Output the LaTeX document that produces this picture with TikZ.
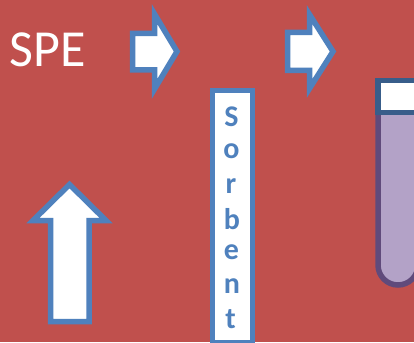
\documentclass[tikz,border=0pt]{standalone}
\usepackage{fontspec}
\setmainfont{Carlito}
\definecolor{bgred}{HTML}{C0504D}
\definecolor{arrowblue}{HTML}{4F81BD}
\definecolor{capblue}{HTML}{385D8A}
\definecolor{tubefill}{HTML}{B3A2C7}
\definecolor{tubeline}{HTML}{604A7B}
\tikzset{
  blockarrow/.style={draw=arrowblue,fill=white,line width=5.5pt,miter limit=10},
  letter/.style={text=arrowblue,font=\fontsize{30}{30}\selectfont\bfseries,inner sep=0pt,anchor=center},
}
\begin{document}
\begin{tikzpicture}[x=1pt,y=-1pt]
\path[use as bounding box,fill=bgred] (0,0) rectangle (414,342);
\clip (0,0) rectangle (414,342);
\node[text=white,font=\fontsize{52}{52}\selectfont,inner sep=0pt,anchor=center] (spe) at (47.5,49.5) {SPE};
\draw[blockarrow] (132.5,33.5) -- (154.5,33.5) -- (154.5,14) -- (177,51.5) -- (154.5,89) -- (154.5,70) -- (132.5,70) -- cycle;
\draw[blockarrow] (287.5,32.5) -- (309.5,32.5) -- (309.5,14.5) -- (333,51.5) -- (309.5,88.5) -- (309.5,70.5) -- (287.5,70.5) -- cycle;
\draw[blockarrow] (50.5,321.5) -- (50.5,220.5) -- (33,220.5) -- (69.5,184.5) -- (106,220.5) -- (89,220.5) -- (89,321.5) -- cycle;
\draw[blockarrow] (212.5,90.5) rectangle (252.5,342.5);
\node[letter] (l1) at (231.5,117) {S};
\node[letter] (l2) at (231.5,151) {o};
\node[letter] (l3) at (231,186) {r};
\node[letter] (l4) at (232,219) {b};
\node[letter] (l5) at (231.5,252) {e};
\node[letter] (l6) at (232,286) {n};
\node[letter] (l7) at (230.5,319) {t};
\draw[draw=tubeline,fill=tubefill,line width=5.5pt] (378,110) -- (378,265) arc[start angle=180,end angle=360,radius=20pt] -- (418,110) -- cycle;
\draw[draw=capblue,fill=white,line width=5.5pt] (378,80.5) rectangle (430,112.5);
\end{tikzpicture}
\end{document}
